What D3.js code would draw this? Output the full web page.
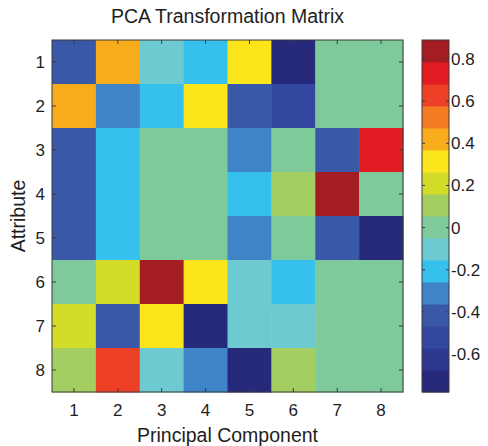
<!DOCTYPE html>
<html>
<head>
<meta charset="utf-8">
<script src="https://cdn.jsdelivr.net/npm/d3@7"></script>
<style>
  html, body { margin: 0; padding: 0; background: #fff; }
  text { font-family: "Liberation Sans", Arial, Helvetica, sans-serif; fill: #1e1e1e; }
</style>
</head>
<body>
<svg id="chart" width="488" height="446"></svg>
<script>
// ---- data ----
const attributes = [1, 2, 3, 4, 5, 6, 7, 8];
const components = [1, 2, 3, 4, 5, 6, 7, 8];
// each row: loadings of one attribute on principal components 1..8
const attr1 = [-0.42, 0.42, -0.10, -0.21, 0.31, -0.73, 0, 0];
const attr2 = [0.43, -0.31, -0.21, 0.32, -0.41, -0.52, 0, 0];
const attr3 = [-0.42, -0.21, 0, 0, -0.31, 0, -0.42, 0.73];
const attr4 = [-0.42, -0.21, 0, 0, -0.21, 0.11, 0.89, 0];
const attr5 = [-0.42, -0.21, 0, 0, -0.31, 0, -0.42, -0.78];
const attr6 = [0, 0.21, 0.85, 0.32, -0.10, -0.21, 0, 0];
const attr7 = [0.21, -0.42, 0.32, -0.72, -0.10, -0.10, 0, 0];
const attr8 = [0.11, 0.63, -0.10, -0.31, -0.73, 0.11, 0, 0];
const colorTicks = [-0.6, -0.4, -0.2, 0, 0.2, 0.4, 0.6, 0.8];
const colorTickLabels = ["-0.6", "-0.4", "-0.2", "0", "0.2", "0.4", "0.6", "0.8"];
const colormap = ["#27297a", "#2d3991", "#3447a0", "#3a58a8", "#3f84c8", "#36c0ee",
                  "#6dcad0", "#7fca9b", "#a3cf62", "#d4dc2a", "#fce51b", "#f8ac1c",
                  "#f37c22", "#ee4026", "#e31c24", "#a41d22"];

const rows = [attr1, attr2, attr3, attr4, attr5, attr6, attr7, attr8];
const cells = [];
rows.forEach((r, i) => r.forEach((v, j) => cells.push({attr: attributes[i], comp: components[j], v})));

// ---- layout ----
const svg = d3.select("#chart");
const L = 52, R = 403, T = 40, B = 392;
const cbL = 422, cbR = 449;

const x = d3.scaleBand().domain(components).range([L, R]).padding(0);
const y = d3.scaleBand().domain(attributes).range([T, B]).padding(0);
const ext = d3.extent(cells, d => d.v);
const color = d3.scaleQuantize().domain(ext).range(colormap);

// cells
svg.append("g").selectAll("rect").data(cells).join("rect")
  .attr("x", d => x(d.comp))
  .attr("y", d => y(d.attr))
  .attr("width", x.bandwidth() + 0.5)
  .attr("height", y.bandwidth() + 0.5)
  .attr("fill", d => color(d.v));

// axis frame
svg.append("rect").attr("x", L).attr("y", T).attr("width", R - L).attr("height", B - T)
  .attr("fill", "none").attr("stroke", "#3a3a3a").attr("stroke-width", 1);

const tl = 4;
const tickG = svg.append("g").attr("stroke", "#3a3a3a").attr("stroke-width", 1);
components.forEach(c => {
  const cx = x(c) + x.bandwidth() / 2;
  tickG.append("line").attr("x1", cx).attr("x2", cx).attr("y1", B).attr("y2", B - tl);
  tickG.append("line").attr("x1", cx).attr("x2", cx).attr("y1", T).attr("y2", T + tl);
});
attributes.forEach(a => {
  const cy = y(a) + y.bandwidth() / 2;
  tickG.append("line").attr("x1", L).attr("x2", L + tl).attr("y1", cy).attr("y2", cy);
  tickG.append("line").attr("x1", R).attr("x2", R - tl).attr("y1", cy).attr("y2", cy);
});

// tick labels
svg.append("g").selectAll("text").data(components).join("text")
  .attr("x", d => x(d) + x.bandwidth() / 2)
  .attr("y", 416)
  .attr("text-anchor", "middle")
  .attr("font-size", 17)
  .text(d => d);
svg.append("g").selectAll("text").data(attributes).join("text")
  .attr("x", 45)
  .attr("y", d => y(d) + y.bandwidth() / 2)
  .attr("dy", "0.35em")
  .attr("text-anchor", "end")
  .attr("font-size", 17)
  .text(d => d);

// titles
svg.append("text").attr("x", (L + R) / 2).attr("y", 23).attr("text-anchor", "middle")
  .attr("font-size", 19.5).text("PCA Transformation Matrix");
svg.append("text").attr("x", (L + R) / 2).attr("y", 442).attr("text-anchor", "middle")
  .attr("font-size", 19.5).text("Principal Component");
svg.append("text").attr("transform", `translate(25,${(T + B) / 2}) rotate(-90)`)
  .attr("text-anchor", "middle").attr("font-size", 19.5).text("Attribute");

// colorbar
const cy = d3.scaleLinear().domain(ext).range([B, T]);
const bounds = [ext[0], ...color.thresholds(), ext[1]];
const bands = colormap.map((c, i) => ({c, lo: bounds[i], hi: bounds[i + 1]}));
svg.append("g").selectAll("rect").data(bands).join("rect")
  .attr("x", cbL).attr("width", cbR - cbL)
  .attr("y", d => cy(d.hi)).attr("height", d => cy(d.lo) - cy(d.hi) + 0.5)
  .attr("fill", d => d.c);
svg.append("rect").attr("x", cbL).attr("y", T).attr("width", cbR - cbL).attr("height", B - T)
  .attr("fill", "none").attr("stroke", "#3a3a3a").attr("stroke-width", 1);
const cbTicks = svg.append("g").attr("stroke", "#3a3a3a").attr("stroke-width", 1);
colorTicks.forEach(t => {
  cbTicks.append("line").attr("x1", cbL).attr("x2", cbL + 3).attr("y1", cy(t)).attr("y2", cy(t));
  cbTicks.append("line").attr("x1", cbR).attr("x2", cbR - 3).attr("y1", cy(t)).attr("y2", cy(t));
});
svg.append("g").selectAll("text").data(colorTicks).join("text")
  .attr("x", 451)
  .attr("y", d => cy(d))
  .attr("dy", "0.35em")
  .attr("font-size", 17)
  .text((d, i) => colorTickLabels[i]);
</script>
</body>
</html>
